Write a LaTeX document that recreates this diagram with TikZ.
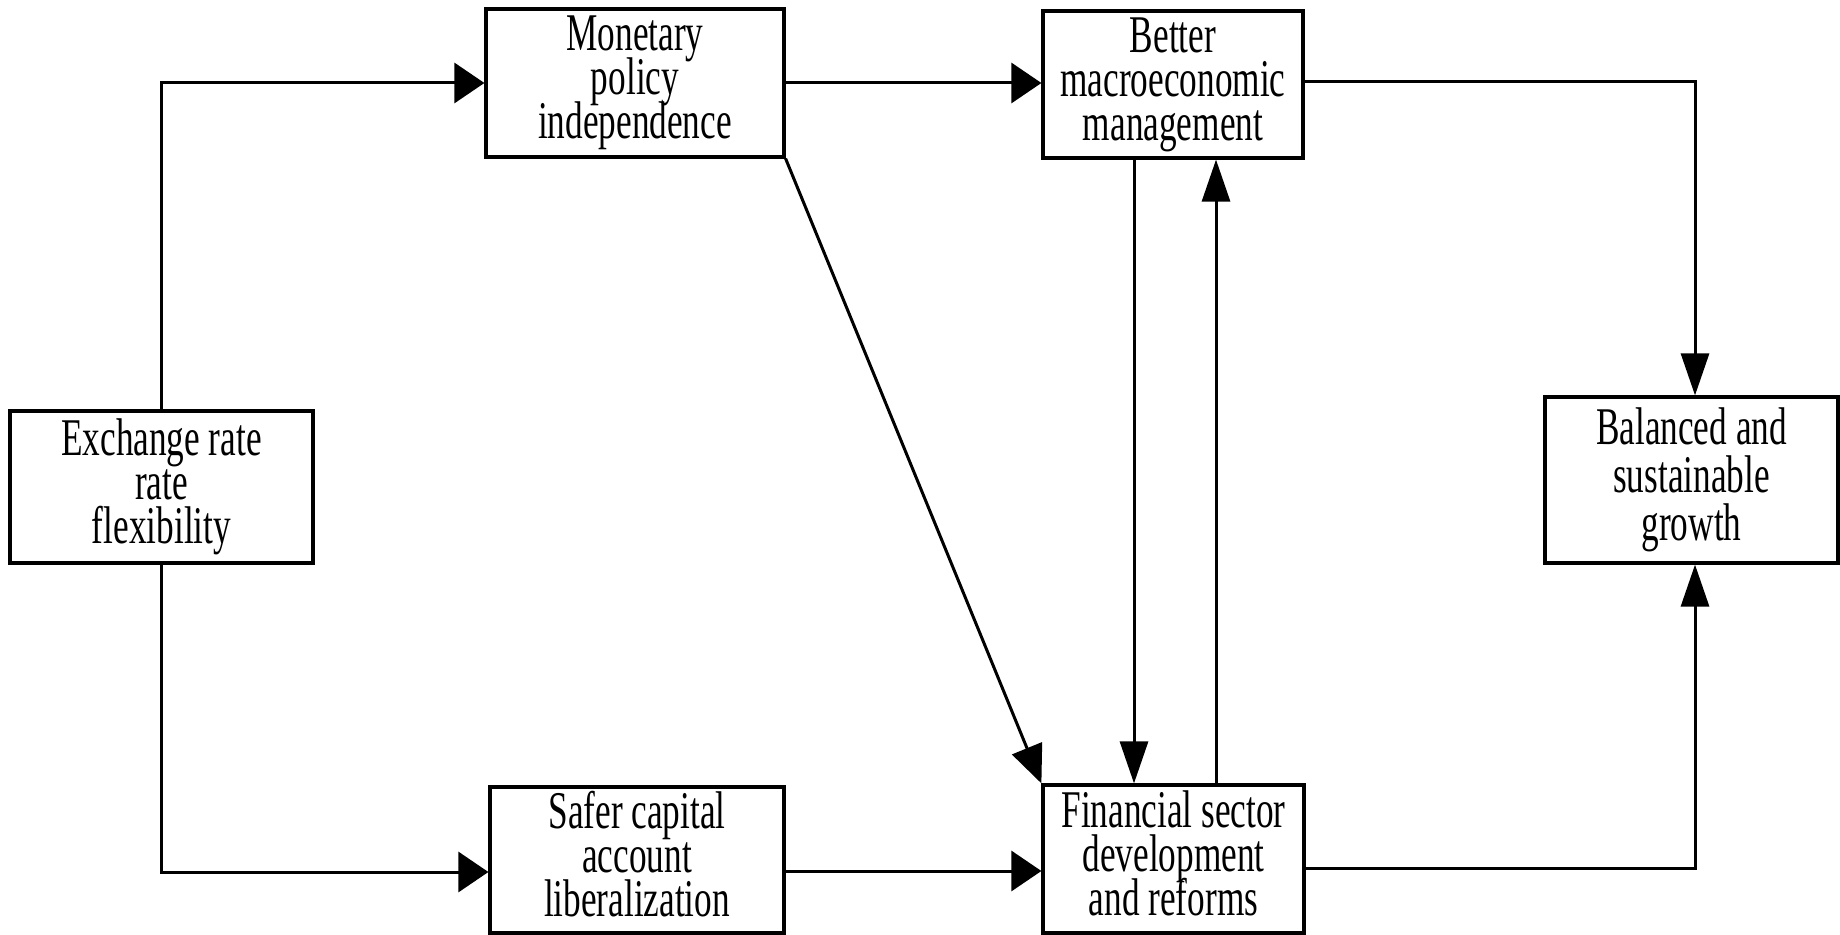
\documentclass[tikz,border=0pt]{standalone}
\usepackage{fontspec}
\setmainfont{Liberation Serif}[FakeStretch=0.665]
\usetikzlibrary{arrows.meta}
\normallineskiplimit=-50pt
\lineskiplimit=-50pt
\begin{document}
\begin{tikzpicture}[x=0.5pt,y=-0.5pt,
  box/.style={draw, line width=1.6pt, align=center, inner sep=0pt, fill=white,
    font=\fontsize{26.5pt}{22pt}\selectfont,
    execute at begin node=\vphantom{Ay},
    execute at end node=\vphantom{Ay}},
  conn/.style={line width=1.5pt, line join=miter},
  harr/.style={conn, -{Triangle[length=15pt,width=20pt]}},
  varr/.style={conn, -{Triangle[length=21pt,width=14pt]}},
  darr/.style={conn, -{Triangle[length=19pt,width=16pt]}}]
\useasboundingbox (0,0) rectangle (1840,935);
\fill[white] (0,0) rectangle (1840,935);

\node[box, minimum width=151.5pt, minimum height=76pt] (ex) at (161.5,487) {Exchange rate\\rate\\flexibility};
\node[box, minimum width=149pt, minimum height=74pt] (mo) at (635,83) {Monetary\\policy\\independence};
\node[box, minimum width=130pt, minimum height=73.5pt] (be) at (1173,84.5) {Better\\macroeconomic\\management};
\node[box, minimum width=146.5pt, minimum height=83pt, font=\fontsize{26.5pt}{24pt}\selectfont] (ba) at (1691.5,480) {Balanced and\\sustainable\\growth};
\node[box, minimum width=147pt, minimum height=73pt] (sa) at (637,860) {Safer capital\\account\\liberalization};
\node[box, minimum width=130.5pt, minimum height=74pt] (fi) at (1173.5,859) {Financial sector\\development\\and reforms};

\draw[harr] (ex.north) |- (mo.west);
\draw[harr] (ex.south) |- ([yshift=-6pt]sa.west);
\draw[harr] (mo.east) -- (mo.east -| be.west);
\draw[varr] ([yshift=1.25pt]be.east) -| ([xshift=1.75pt]ba.north);
\draw[darr] (mo.south east) -- (fi.north west);
\draw[varr] ([xshift=-19.5pt]be.south) -- ([xshift=-19.5pt]be.south |- fi.north);
\draw[varr] ([xshift=21.25pt]fi.north) -- ([xshift=21.25pt]fi.north |- be.south);
\draw[harr] ([yshift=-5.5pt]sa.east) -- ([yshift=-5.5pt]sa.east -| fi.west);
\draw[varr] ([yshift=-4.5pt]fi.east) -| ([xshift=1.75pt]ba.south);
\end{tikzpicture}
\end{document}
